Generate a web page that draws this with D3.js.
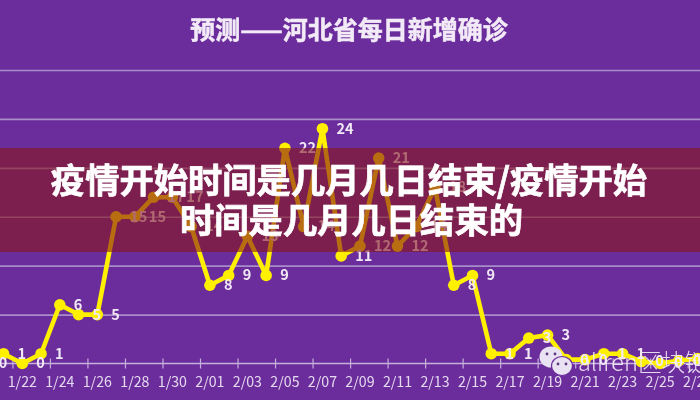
<!DOCTYPE html>
<html>
<head>
<meta charset="utf-8">
<script src="https://d3js.org/d3.v7.min.js"></script>
<style>
html,body{margin:0;padding:0;background:#6c2d9c;overflow:hidden}
svg{display:block}
text{font-family:"Noto Sans CJK SC","Noto Sans",sans-serif}
</style>
</head>
<body>
<svg id="c" width="700" height="400"></svg>
<script>
const chartTitle = "预测——河北省每日新增确诊";
const bannerLines = ["疫情开始时间是几月几日结束/疫情开始", "时间是几月几日结束的"];
const watermark = "aliren区块链研究";
const days = ["1/20","1/21","1/22","1/23","1/24","1/25","1/26","1/27","1/28","1/29","1/30","1/31",
  "2/01","2/02","2/03","2/04","2/05","2/06","2/07","2/08","2/09","2/10","2/11","2/12","2/13","2/14",
  "2/15","2/16","2/17","2/18","2/19","2/20","2/21","2/22","2/23","2/24","2/25","2/26","2/27"];
const cases = [0,1,0,1,6,5,5,15,15,17,17,14,
  8,9,13,9,22,14,24,11,12,21,12,14,18,8,
  9,1,1,2.6,2.9,0.4,0.4,1,1,0.2,0,0.3,0.5];
const tickDays = days.filter((d,i)=>i%2===0 && i>0);
const gridValues = [5,10,15,20,25,30];

const svg = d3.select("#c");
const W = 700, H = 400;
const x = d3.scaleBand().domain(days).range([-24.6,707]).padding(0);
const y = d3.scaleLinear().domain([0,30]).range([363.5,70]);
const cx = d => x(d)+x.bandwidth()/2;

svg.append("rect").attr("width",W).attr("height",H).attr("fill","#6c2d9c");
const chart = svg.append("g").style("filter","blur(0.6px)");

const grid = chart.append("g").call(d3.axisLeft(y).tickValues(gridValues).tickSize(-W).tickFormat(""));
grid.select(".domain").remove();
grid.selectAll("line").attr("stroke","#a78cc9").attr("stroke-width",1.6);

chart.append("line").attr("x1",0).attr("x2",W).attr("y1",363.5).attr("y2",363.5)
  .attr("stroke","#c4b0dc").attr("stroke-width",1.6);
const ax = chart.append("g").attr("transform","translate(0,363.5)")
  .call(d3.axisBottom(x).tickValues(tickDays).tickSize(0).tickPadding(12));
ax.select(".domain").remove();
ax.selectAll(".tick line")
  .attr("y1",-5).attr("y2",5)
  .attr("transform",`translate(${-x.bandwidth()/2},0)`)
  .attr("stroke","#c4b0dc").attr("stroke-width",1.2);
ax.selectAll("text").attr("fill","#e4d9ef").attr("font-size",14.2)
  .attr("dy",0).attr("y",19.5).attr("dominant-baseline","middle");

const series = days.map((d,i)=>({d,v:cases[i]}));
chart.append("path").datum(series)
  .attr("fill","none").attr("stroke","#fff000").attr("stroke-width",4.6).attr("stroke-linejoin","round")
  .attr("d",d3.line().x(p=>cx(p.d)).y(p=>y(p.v)));
chart.append("g").selectAll("circle").data(series).join("circle")
  .attr("cx",p=>cx(p.d)).attr("cy",p=>y(p.v)).attr("r",5.8).attr("fill","#fff000");
chart.append("g").selectAll("text").data(series).join("text")
  .attr("x",p=>cx(p.d)+14).attr("y",p=>y(p.v)+1)
  .attr("dominant-baseline","middle")
  .attr("font-size",14.5).attr("font-weight",700).attr("fill","#f0e8f6")
  .text(p=>d3.format(".0f")(p.v));

svg.append("text").attr("x",349).attr("y",32)
  .attr("text-anchor","middle").attr("dominant-baseline","middle")
  .attr("font-size",25).attr("font-weight",700).attr("fill","#f2ebf7")
  .attr("stroke","#f2ebf7").attr("stroke-width",0.5)
  .style("filter","blur(0.4px)").text(chartTitle);

// WeChat-style watermark
const wm = svg.append("g").style("filter","blur(0.4px)");
wm.append("ellipse").attr("cx",551).attr("cy",357).attr("rx",11.5).attr("ry",10.5).attr("fill","#e9e2f2");
wm.append("ellipse").attr("cx",562).attr("cy",366).attr("rx",10.5).attr("ry",9.5).attr("fill","#e9e2f2")
  .attr("stroke","#6c2d9c").attr("stroke-width",1.2);
[[547,354],[555,354],[558,364],[566,364]].forEach(p=>
  wm.append("circle").attr("cx",p[0]).attr("cy",p[1]).attr("r",1.4).attr("fill","#5d3a80"));
wm.append("text").attr("x",578).attr("y",365).attr("dominant-baseline","middle")
  .attr("font-size",23.5).attr("font-weight",300).attr("fill","#f2ecf8").attr("fill-opacity",0.9).text(watermark);

// Banner over the chart
svg.append("rect").attr("x",0).attr("y",148).attr("width",W).attr("height",104)
  .attr("fill","rgb(135,22,27)").attr("fill-opacity",0.6);
svg.append("g").selectAll("text").data(bannerLines).join("text")
  .attr("x",(d,i)=>349+i*2.5).attr("y",(d,i)=>183.5+i*40)
  .attr("text-anchor","middle").attr("dominant-baseline","middle")
  .attr("font-size",34.3).attr("font-weight",700).attr("fill","#fff")
  .attr("stroke","#fff").attr("stroke-width",0.7)
  .text(d=>d);
</script>
</body>
</html>
